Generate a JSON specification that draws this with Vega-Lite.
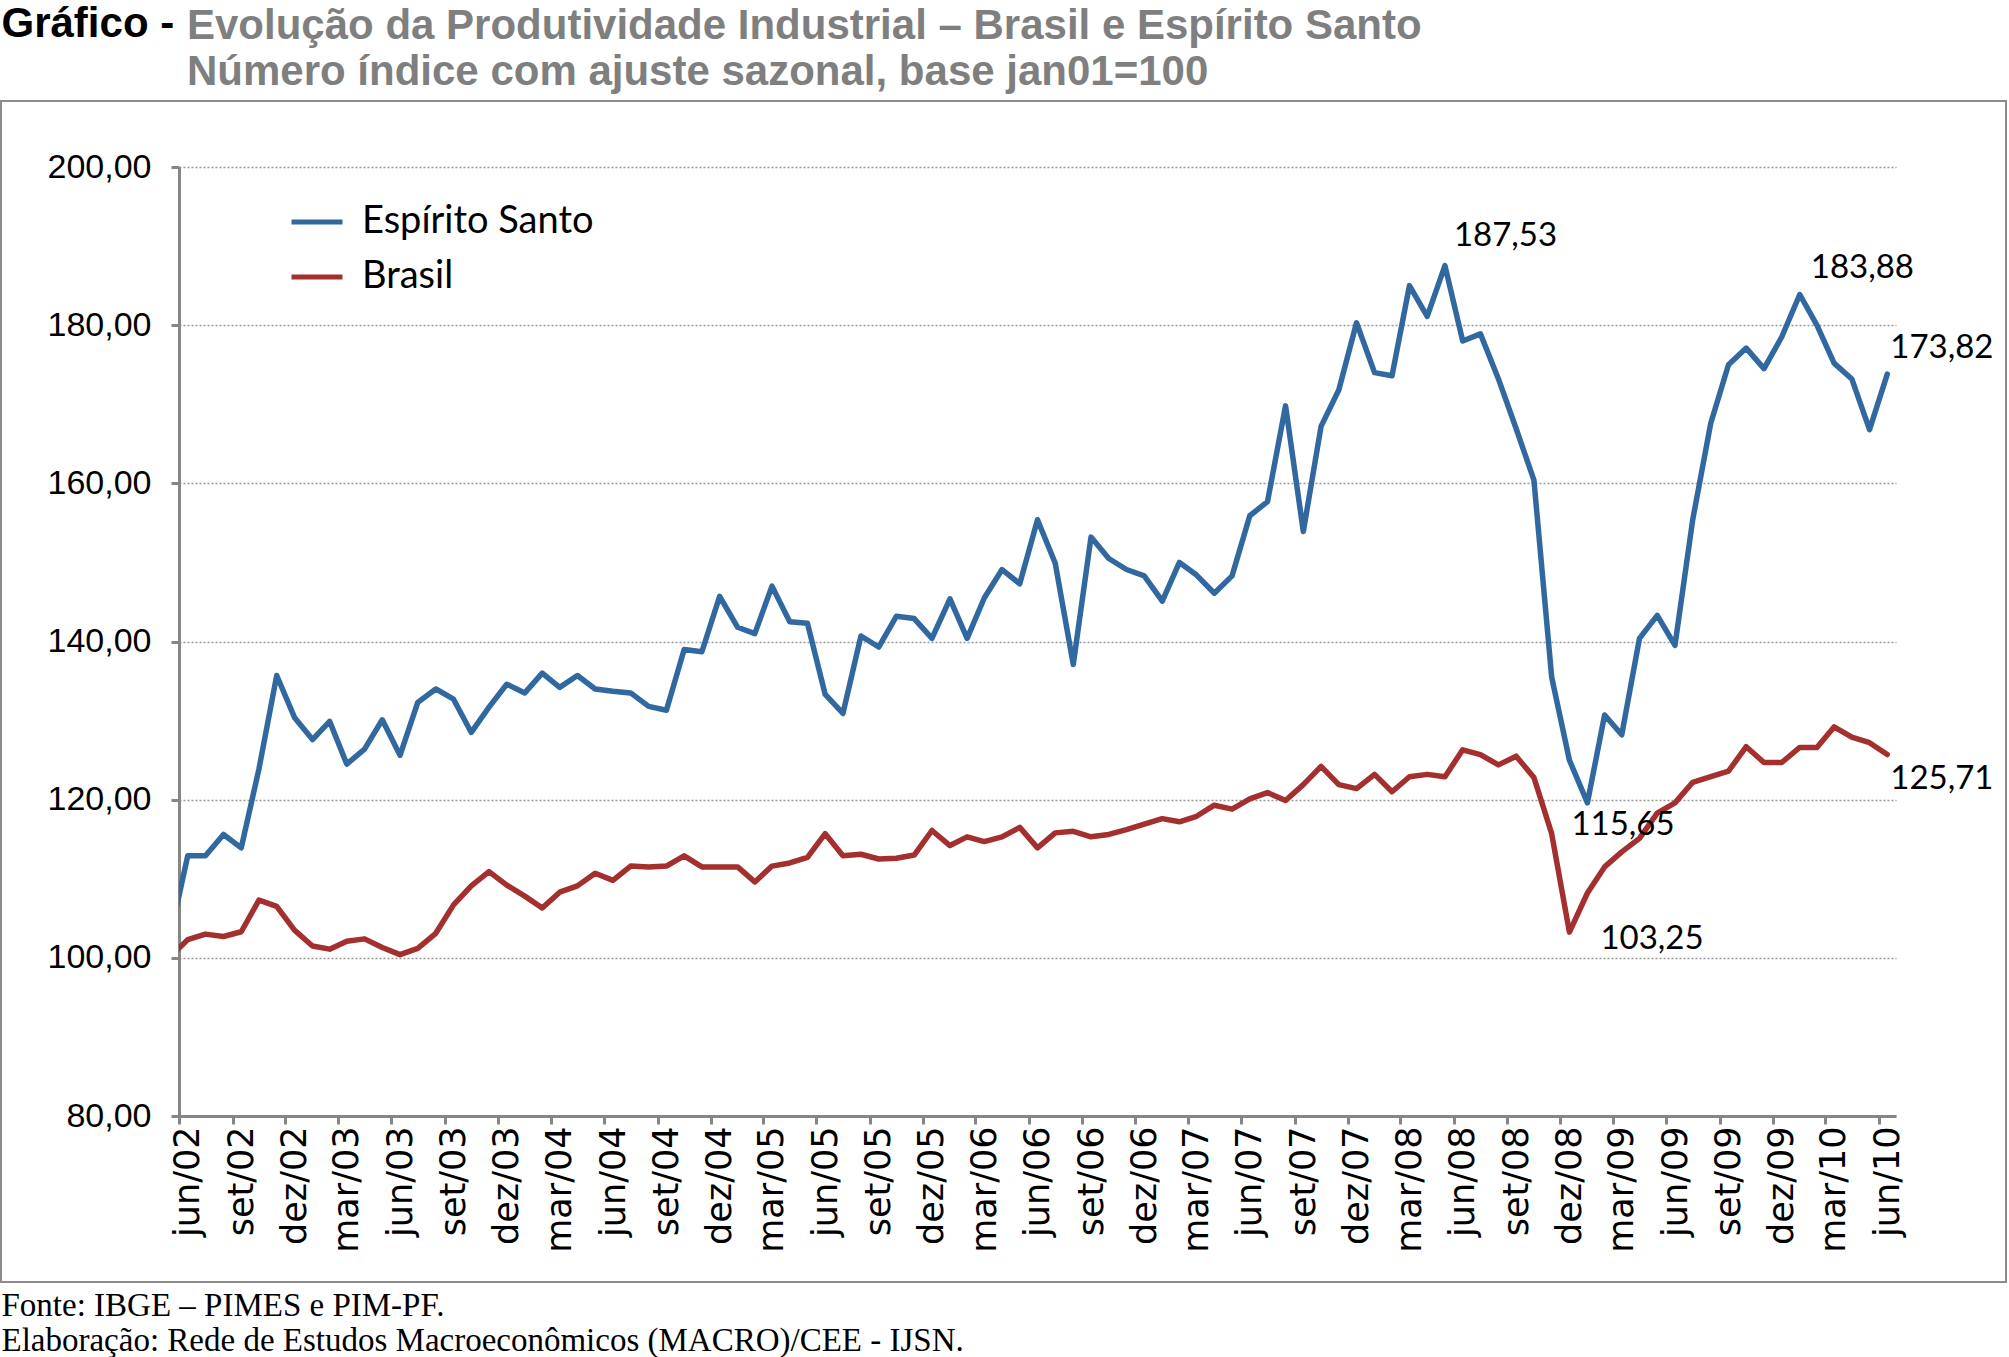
{
  "$schema": "https://vega.github.io/schema/vega-lite/v6.json",
  "width": 1717,
  "height": 949,
  "autosize": {"type": "none"},
  "padding": {"left": 179, "top": 167, "right": 113, "bottom": 241},
  "background": "white",
  "title": {
    "text": ["Evolução da Produtividade Industrial – Brasil e Espírito Santo", "Número índice com ajuste sazonal, base jan01=100"],
    "anchor": "start",
    "frame": "group",
    "color": "#7f7f7f",
    "font": "Liberation Sans Narrow, Liberation Sans",
    "fontSize": 42,
    "fontWeight": "bold",
    "lineHeight": 46,
    "dx": 8,
    "offset": -92
  },
  "datasets": {
    "serie": [
      {"mes": "2002-05", "Espírito Santo": 102.6, "Brasil": 100.1},
      {"mes": "2002-06", "Espírito Santo": 112.9, "Brasil": 102.3},
      {"mes": "2002-07", "Espírito Santo": 112.9, "Brasil": 103.0},
      {"mes": "2002-08", "Espírito Santo": 115.6, "Brasil": 102.7},
      {"mes": "2002-09", "Espírito Santo": 113.9, "Brasil": 103.3},
      {"mes": "2002-10", "Espírito Santo": 123.9, "Brasil": 107.3},
      {"mes": "2002-11", "Espírito Santo": 135.7, "Brasil": 106.5},
      {"mes": "2002-12", "Espírito Santo": 130.4, "Brasil": 103.5},
      {"mes": "2003-01", "Espírito Santo": 127.6, "Brasil": 101.5},
      {"mes": "2003-02", "Espírito Santo": 129.9, "Brasil": 101.1},
      {"mes": "2003-03", "Espírito Santo": 124.5, "Brasil": 102.1},
      {"mes": "2003-04", "Espírito Santo": 126.4, "Brasil": 102.4},
      {"mes": "2003-05", "Espírito Santo": 130.1, "Brasil": 101.3},
      {"mes": "2003-06", "Espírito Santo": 125.6, "Brasil": 100.4},
      {"mes": "2003-07", "Espírito Santo": 132.3, "Brasil": 101.2},
      {"mes": "2003-08", "Espírito Santo": 134.0, "Brasil": 103.1},
      {"mes": "2003-09", "Espírito Santo": 132.7, "Brasil": 106.7},
      {"mes": "2003-10", "Espírito Santo": 128.5, "Brasil": 109.1},
      {"mes": "2003-11", "Espírito Santo": 131.7, "Brasil": 110.9},
      {"mes": "2003-12", "Espírito Santo": 134.6, "Brasil": 109.2},
      {"mes": "2004-01", "Espírito Santo": 133.5, "Brasil": 107.8},
      {"mes": "2004-02", "Espírito Santo": 136.0, "Brasil": 106.3},
      {"mes": "2004-03", "Espírito Santo": 134.2, "Brasil": 108.3},
      {"mes": "2004-04", "Espírito Santo": 135.7, "Brasil": 109.1},
      {"mes": "2004-05", "Espírito Santo": 134.0, "Brasil": 110.7},
      {"mes": "2004-06", "Espírito Santo": 133.7, "Brasil": 109.8},
      {"mes": "2004-07", "Espírito Santo": 133.5, "Brasil": 111.6},
      {"mes": "2004-08", "Espírito Santo": 131.8, "Brasil": 111.5},
      {"mes": "2004-09", "Espírito Santo": 131.3, "Brasil": 111.6},
      {"mes": "2004-10", "Espírito Santo": 139.0, "Brasil": 112.9},
      {"mes": "2004-11", "Espírito Santo": 138.7, "Brasil": 111.5},
      {"mes": "2004-12", "Espírito Santo": 145.7, "Brasil": 111.5},
      {"mes": "2005-01", "Espírito Santo": 141.8, "Brasil": 111.5},
      {"mes": "2005-02", "Espírito Santo": 141.0, "Brasil": 109.6},
      {"mes": "2005-03", "Espírito Santo": 147.0, "Brasil": 111.6},
      {"mes": "2005-04", "Espírito Santo": 142.5, "Brasil": 112.0},
      {"mes": "2005-05", "Espírito Santo": 142.3, "Brasil": 112.7},
      {"mes": "2005-06", "Espírito Santo": 133.3, "Brasil": 115.7},
      {"mes": "2005-07", "Espírito Santo": 130.9, "Brasil": 112.9},
      {"mes": "2005-08", "Espírito Santo": 140.7, "Brasil": 113.1},
      {"mes": "2005-09", "Espírito Santo": 139.3, "Brasil": 112.5},
      {"mes": "2005-10", "Espírito Santo": 143.2, "Brasil": 112.6},
      {"mes": "2005-11", "Espírito Santo": 142.9, "Brasil": 113.0},
      {"mes": "2005-12", "Espírito Santo": 140.4, "Brasil": 116.1},
      {"mes": "2006-01", "Espírito Santo": 145.4, "Brasil": 114.2},
      {"mes": "2006-02", "Espírito Santo": 140.4, "Brasil": 115.3},
      {"mes": "2006-03", "Espírito Santo": 145.5, "Brasil": 114.7},
      {"mes": "2006-04", "Espírito Santo": 149.1, "Brasil": 115.3},
      {"mes": "2006-05", "Espírito Santo": 147.3, "Brasil": 116.5},
      {"mes": "2006-06", "Espírito Santo": 155.4, "Brasil": 113.9},
      {"mes": "2006-07", "Espírito Santo": 149.9, "Brasil": 115.8},
      {"mes": "2006-08", "Espírito Santo": 137.1, "Brasil": 116.0},
      {"mes": "2006-09", "Espírito Santo": 153.2, "Brasil": 115.3},
      {"mes": "2006-10", "Espírito Santo": 150.5, "Brasil": 115.6},
      {"mes": "2006-11", "Espírito Santo": 149.1, "Brasil": 116.2},
      {"mes": "2006-12", "Espírito Santo": 148.3, "Brasil": 116.9},
      {"mes": "2007-01", "Espírito Santo": 145.1, "Brasil": 117.6},
      {"mes": "2007-02", "Espírito Santo": 150.0, "Brasil": 117.2},
      {"mes": "2007-03", "Espírito Santo": 148.4, "Brasil": 117.9},
      {"mes": "2007-04", "Espírito Santo": 146.1, "Brasil": 119.3},
      {"mes": "2007-05", "Espírito Santo": 148.3, "Brasil": 118.8},
      {"mes": "2007-06", "Espírito Santo": 155.9, "Brasil": 120.1},
      {"mes": "2007-07", "Espírito Santo": 157.7, "Brasil": 120.9},
      {"mes": "2007-08", "Espírito Santo": 169.8, "Brasil": 119.9},
      {"mes": "2007-09", "Espírito Santo": 153.9, "Brasil": 121.9},
      {"mes": "2007-10", "Espírito Santo": 167.2, "Brasil": 124.2},
      {"mes": "2007-11", "Espírito Santo": 171.8, "Brasil": 121.9},
      {"mes": "2007-12", "Espírito Santo": 180.3, "Brasil": 121.4},
      {"mes": "2008-01", "Espírito Santo": 174.0, "Brasil": 123.2},
      {"mes": "2008-02", "Espírito Santo": 173.6, "Brasil": 121.0},
      {"mes": "2008-03", "Espírito Santo": 185.0, "Brasil": 122.9},
      {"mes": "2008-04", "Espírito Santo": 181.1, "Brasil": 123.2},
      {"mes": "2008-05", "Espírito Santo": 187.53, "Brasil": 122.9},
      {"mes": "2008-06", "Espírito Santo": 178.0, "Brasil": 126.3},
      {"mes": "2008-07", "Espírito Santo": 178.9, "Brasil": 125.7},
      {"mes": "2008-08", "Espírito Santo": 173.2, "Brasil": 124.4},
      {"mes": "2008-09", "Espírito Santo": 166.9, "Brasil": 125.5},
      {"mes": "2008-10", "Espírito Santo": 160.4, "Brasil": 122.8},
      {"mes": "2008-11", "Espírito Santo": 135.5, "Brasil": 115.7},
      {"mes": "2008-12", "Espírito Santo": 125.0, "Brasil": 103.25},
      {"mes": "2009-01", "Espírito Santo": 119.6, "Brasil": 108.2},
      {"mes": "2009-02", "Espírito Santo": 130.7, "Brasil": 111.5},
      {"mes": "2009-03", "Espírito Santo": 128.2, "Brasil": 113.4},
      {"mes": "2009-04", "Espírito Santo": 140.4, "Brasil": 115.1},
      {"mes": "2009-05", "Espírito Santo": 143.3, "Brasil": 118.3},
      {"mes": "2009-06", "Espírito Santo": 139.5, "Brasil": 119.6},
      {"mes": "2009-07", "Espírito Santo": 155.4, "Brasil": 122.2},
      {"mes": "2009-08", "Espírito Santo": 167.6, "Brasil": 122.9},
      {"mes": "2009-09", "Espírito Santo": 175.0, "Brasil": 123.6},
      {"mes": "2009-10", "Espírito Santo": 177.1, "Brasil": 126.7},
      {"mes": "2009-11", "Espírito Santo": 174.5, "Brasil": 124.7},
      {"mes": "2009-12", "Espírito Santo": 178.5, "Brasil": 124.7},
      {"mes": "2010-01", "Espírito Santo": 183.88, "Brasil": 126.6},
      {"mes": "2010-02", "Espírito Santo": 180.0, "Brasil": 126.6},
      {"mes": "2010-03", "Espírito Santo": 175.2, "Brasil": 129.2},
      {"mes": "2010-04", "Espírito Santo": 173.2, "Brasil": 127.9},
      {"mes": "2010-05", "Espírito Santo": 166.8, "Brasil": 127.2},
      {"mes": "2010-06", "Espírito Santo": 173.82, "Brasil": 125.71}
    ],
    "rotulos": [
      {"mes": "2008-05", "valor": 187.53, "rotulo": "187,53"},
      {"mes": "2010-01", "valor": 183.88, "rotulo": "183,88"},
      {"mes": "2010-06", "valor": 173.82, "rotulo": "173,82"},
      {"mes": "2009-01", "valor": 119.6, "rotulo": "115,65"},
      {"mes": "2008-12", "valor": 103.25, "rotulo": "103,25"},
      {"mes": "2010-06", "valor": 125.71, "rotulo": "125,71"}
    ]
  },
  "encoding": {
    "x": {
      "field": "mes",
      "timeUnit": "utcyearmonth",
      "type": "temporal",
      "bandPosition": 0.5,
      "scale": {
        "type": "utc",
        "nice": false,
        "domain": [
          {"year": 2002, "month": 6, "date": 1, "utc": true},
          {"year": 2010, "month": 7, "date": 1, "utc": true}
        ]
      },
      "axis": {
        "values": [
          {"year": 2002, "month": 6, "date": 1, "utc": true},
          {"year": 2002, "month": 9, "date": 1, "utc": true},
          {"year": 2002, "month": 12, "date": 1, "utc": true},
          {"year": 2003, "month": 3, "date": 1, "utc": true},
          {"year": 2003, "month": 6, "date": 1, "utc": true},
          {"year": 2003, "month": 9, "date": 1, "utc": true},
          {"year": 2003, "month": 12, "date": 1, "utc": true},
          {"year": 2004, "month": 3, "date": 1, "utc": true},
          {"year": 2004, "month": 6, "date": 1, "utc": true},
          {"year": 2004, "month": 9, "date": 1, "utc": true},
          {"year": 2004, "month": 12, "date": 1, "utc": true},
          {"year": 2005, "month": 3, "date": 1, "utc": true},
          {"year": 2005, "month": 6, "date": 1, "utc": true},
          {"year": 2005, "month": 9, "date": 1, "utc": true},
          {"year": 2005, "month": 12, "date": 1, "utc": true},
          {"year": 2006, "month": 3, "date": 1, "utc": true},
          {"year": 2006, "month": 6, "date": 1, "utc": true},
          {"year": 2006, "month": 9, "date": 1, "utc": true},
          {"year": 2006, "month": 12, "date": 1, "utc": true},
          {"year": 2007, "month": 3, "date": 1, "utc": true},
          {"year": 2007, "month": 6, "date": 1, "utc": true},
          {"year": 2007, "month": 9, "date": 1, "utc": true},
          {"year": 2007, "month": 12, "date": 1, "utc": true},
          {"year": 2008, "month": 3, "date": 1, "utc": true},
          {"year": 2008, "month": 6, "date": 1, "utc": true},
          {"year": 2008, "month": 9, "date": 1, "utc": true},
          {"year": 2008, "month": 12, "date": 1, "utc": true},
          {"year": 2009, "month": 3, "date": 1, "utc": true},
          {"year": 2009, "month": 6, "date": 1, "utc": true},
          {"year": 2009, "month": 9, "date": 1, "utc": true},
          {"year": 2009, "month": 12, "date": 1, "utc": true},
          {"year": 2010, "month": 3, "date": 1, "utc": true},
          {"year": 2010, "month": 6, "date": 1, "utc": true}
        ],
        "labelExpr": "['jan','fev','mar','abr','mai','jun','jul','ago','set','out','nov','dez'][utcmonth(datum.value)] + '/' + utcFormat(datum.value, '%y')",
        "labelAngle": -90,
        "labelFont": "DejaVu Sans",
        "labelFontSize": 35,
        "labelColor": "#000000",
        "labelPadding": 2,
        "labelOffset": 8.85,
        "labelOverlap": false,
        "labelFlush": false,
        "labelBound": false,
        "tickSize": 8,
        "tickWidth": 3,
        "tickColor": "#868686",
        "domainColor": "#868686",
        "domainWidth": 3,
        "grid": false,
        "title": ["Fonte: IBGE – PIMES e PIM-PF.", "Elaboração: Rede de Estudos Macroeconômicos (MACRO)/CEE - IJSN."],
        "titleX": -178,
        "titleY": 173,
        "titleAlign": "left",
        "titleAnchor": "start",
        "titleBaseline": "top",
        "titleAngle": 0,
        "titleFont": "Liberation Serif",
        "titleFontSize": 33,
        "titleFontWeight": "normal",
        "titleColor": "#000000",
        "titleLineHeight": 35
      }
    },
    "y": {
      "field": "valor",
      "type": "quantitative",
      "scale": {"domain": [80, 200], "nice": false, "zero": false},
      "axis": {
        "values": [80, 100, 120, 140, 160, 180, 200],
        "labelExpr": "replace(format(datum.value, '.2f'), '.', ',')",
        "labelFont": "Liberation Sans",
        "labelFontSize": 34,
        "labelColor": "#000000",
        "labelPadding": 20,
        "tickSize": 8,
        "tickWidth": 3,
        "tickColor": "#868686",
        "domainColor": "#868686",
        "domainWidth": 3,
        "grid": true,
        "gridColor": "#9a9a9a",
        "gridDash": [2, 2],
        "gridWidth": 1.5,
        "title": "Gráfico -",
        "titleX": -178,
        "titleY": -144,
        "titleAngle": 0,
        "titleAlign": "left",
        "titleBaseline": "middle",
        "titleFont": "Liberation Sans Narrow, Liberation Sans",
        "titleFontSize": 42,
        "titleFontWeight": "bold",
        "titleColor": "#000000"
      }
    }
  },
  "layer": [
    {
      "data": {"name": "serie"},
      "transform": [{"fold": ["Espírito Santo", "Brasil"], "as": ["serie", "valor"]}],
      "mark": {"type": "point", "opacity": 0, "size": 1},
      "encoding": {
        "fill": {
          "field": "valor",
          "type": "quantitative",
          "scale": {"range": ["rgba(255,255,255,0)", "rgba(255,255,255,0)"]},
          "legend": {
            "orient": "none",
            "direction": "horizontal",
            "legendX": -178,
            "legendY": -66,
            "title": null,
            "labelExpr": "''",
            "labelOpacity": 0,
            "labelFontSize": 1,
            "tickCount": 2,
            "padding": 0,
            "gradientLength": 2005,
            "gradientThickness": 1181,
            "gradientStrokeColor": "#8c8c8c",
            "gradientStrokeWidth": 2
          }
        }
      }
    },
    {
      "data": {"name": "serie"},
      "transform": [{"fold": ["Espírito Santo", "Brasil"], "as": ["serie", "valor"]}],
      "mark": {"type": "line", "strokeWidth": 5.5, "clip": true, "strokeJoin": "round", "strokeCap": "round"},
      "encoding": {
        "color": {
          "field": "serie",
          "type": "nominal",
          "scale": {"domain": ["Espírito Santo", "Brasil"], "range": ["#31689f", "#a32f2e"]},
          "legend": {
            "orient": "none",
            "legendX": 110,
            "legendY": 27,
            "title": null,
            "symbolType": "stroke",
            "symbolStrokeWidth": 5,
            "symbolSize": 2600,
            "labelFont": "Lato",
            "labelFontSize": 38,
            "labelColor": "#000000",
            "labelOffset": 17,
            "labelLimit": 0,
            "rowPadding": 8,
            "padding": 0
          }
        }
      }
    },
    {
      "data": {"name": "rotulos"},
      "transform": [{"filter": "datum.rotulo === '187,53'"}],
      "mark": {"type": "text", "font": "Lato", "fontSize": 33, "color": "#000000", "align": "left", "baseline": "middle", "dx": 9, "dy": -30},
      "encoding": {"text": {"field": "rotulo"}}
    },
    {
      "data": {"name": "rotulos"},
      "transform": [{"filter": "datum.rotulo === '183,88'"}],
      "mark": {"type": "text", "font": "Lato", "fontSize": 33, "color": "#000000", "align": "left", "baseline": "middle", "dx": 11, "dy": -26},
      "encoding": {"text": {"field": "rotulo"}}
    },
    {
      "data": {"name": "rotulos"},
      "transform": [{"filter": "datum.rotulo === '173,82'"}],
      "mark": {"type": "text", "font": "Lato", "fontSize": 33, "color": "#000000", "align": "left", "baseline": "middle", "dx": 3, "dy": -26},
      "encoding": {"text": {"field": "rotulo"}}
    },
    {
      "data": {"name": "rotulos"},
      "transform": [{"filter": "datum.rotulo === '115,65'"}],
      "mark": {"type": "text", "font": "Lato", "fontSize": 33, "color": "#000000", "align": "left", "baseline": "middle", "dx": -16, "dy": 22},
      "encoding": {"text": {"field": "rotulo"}}
    },
    {
      "data": {"name": "rotulos"},
      "transform": [{"filter": "datum.rotulo === '103,25'"}],
      "mark": {"type": "text", "font": "Lato", "fontSize": 33, "color": "#000000", "align": "left", "baseline": "middle", "dx": 31, "dy": 7},
      "encoding": {"text": {"field": "rotulo"}}
    },
    {
      "data": {"name": "rotulos"},
      "transform": [{"filter": "datum.rotulo === '125,71'"}],
      "mark": {"type": "text", "font": "Lato", "fontSize": 33, "color": "#000000", "align": "left", "baseline": "middle", "dx": 3, "dy": 24},
      "encoding": {"text": {"field": "rotulo"}}
    }
  ],
  "config": {
    "view": {"stroke": null},
    "font": "Liberation Sans"
  }
}
